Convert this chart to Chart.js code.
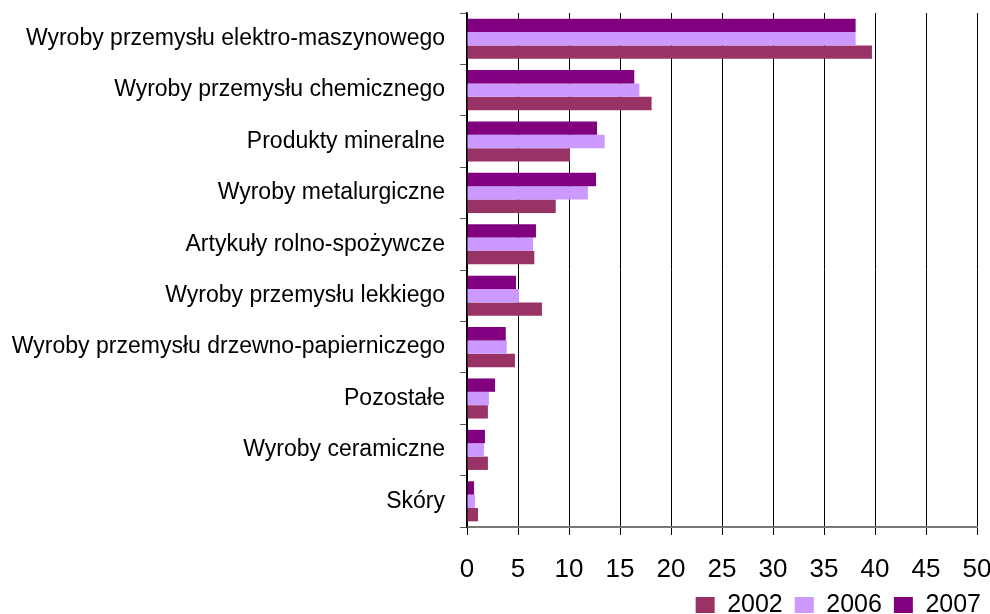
<!DOCTYPE html>
<html><head><meta charset="utf-8">
<script src="https://cdn.jsdelivr.net/npm/chart.js@4/dist/chart.umd.min.js"></script>
<style>html,body{margin:0;padding:0;background:#fff;overflow:hidden}#wrap{width:990px;height:614px;position:relative}</style>
</head><body><div id="wrap"><canvas id="c" width="990" height="614"></canvas></div>
<script>
const categories = [
  'Wyroby przemysłu elektro-maszynowego',
  'Wyroby przemysłu chemicznego',
  'Produkty mineralne',
  'Wyroby metalurgiczne',
  'Artykuły rolno-spożywcze',
  'Wyroby przemysłu lekkiego',
  'Wyroby przemysłu drzewno-papierniczego',
  'Pozostałe',
  'Wyroby ceramiczne',
  'Skóry'
];
const values2002 = [39.7, 18.1, 10.1, 8.7, 6.6, 7.35, 4.7, 2.05, 2.05, 1.08];
const values2006 = [38.1, 16.9, 13.5, 11.85, 6.47, 5.1, 3.9, 2.15, 1.66, 0.78];
const values2007 = [38.1, 16.4, 12.75, 12.65, 6.76, 4.8, 3.8, 2.75, 1.76, 0.69];
const seriesLabels = ['2002', '2006', '2007'];
const tickValues = [0, 5, 10, 15, 20, 25, 30, 35, 40, 45, 50];

const regular = "'Liberation Sans', Arial, sans-serif";

new Chart(document.getElementById('c'), {
  type: 'bar',
  data: {
    labels: categories,
    datasets: [
      {label: seriesLabels[2], data: values2007, backgroundColor: '#800080', borderWidth: 0},
      {label: seriesLabels[1], data: values2006, backgroundColor: '#CC99FF', borderWidth: 0},
      {label: seriesLabels[0], data: values2002, backgroundColor: '#993366', borderWidth: 0}
    ]
  },
  options: {
    indexAxis: 'y',
    responsive: false,
    animation: false,
    categoryPercentage: 0.78,
    barPercentage: 1,
    layout: {padding: {top: 13, right: -3, left: 0, bottom: -13.5}},
    plugins: {
      legend: {
        position: 'bottom', align: 'end',
        labels: {
          boxWidth: 19, boxHeight: 16, padding: 12, color: '#000',
          font: {family: regular, size: 25},
          sort: (a, b) => b.datasetIndex - a.datasetIndex
        }
      },
      tooltip: {enabled: false}
    },
    scales: {
      x: {
        min: 0, max: 50,
        afterBuildTicks: s => { s.ticks = tickValues.map(v => ({value: v})); },
        afterFit: s => { s.height = 53.5; s.paddingLeft = 0; s.paddingRight = 13; },
        ticks: {color: '#000', font: {family: regular, size: 26}, padding: 19, maxRotation: 0, autoSkip: false},
        grid: {color: '#000', lineWidth: 1, tickLength: 8, drawTicks: true},
        border: {color: '#777', width: 2}
      },
      y: {
        afterFit: s => { s.width = 467; s.paddingTop = 0; s.paddingBottom = 0; },
        ticks: {color: '#000', font: {family: regular, size: 23}, padding: 15, autoSkip: false},
        grid: {offset: true, drawOnChartArea: false, tickLength: 7, color: '#555'},
        border: {color: '#000', width: 1.5}
      }
    }
  }
});
</script></body></html>
